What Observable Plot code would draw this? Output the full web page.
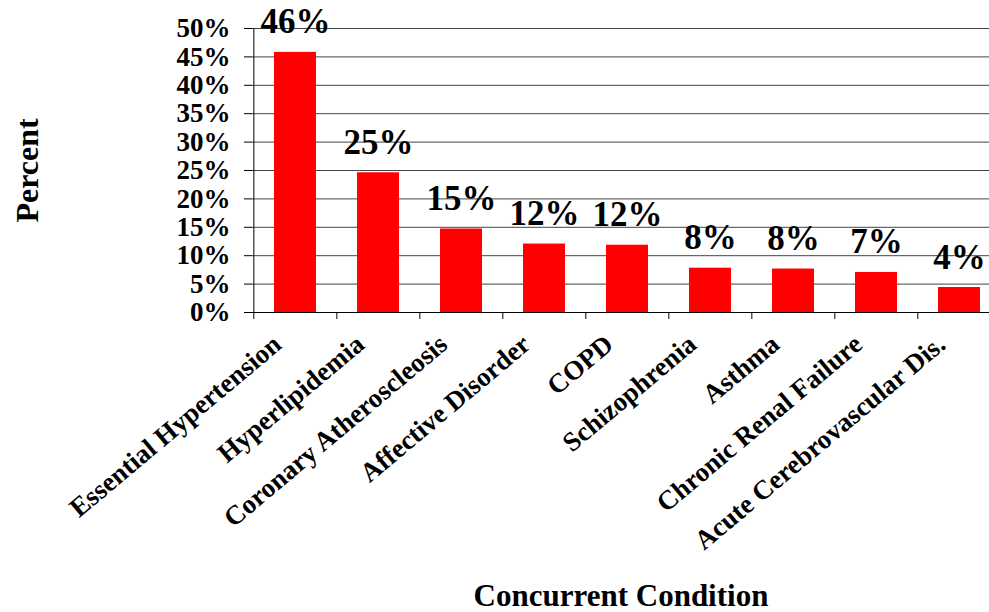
<!DOCTYPE html>
<html>
<head>
<meta charset="utf-8">
<script src="https://cdn.jsdelivr.net/npm/d3@7"></script>
<script src="https://cdn.jsdelivr.net/npm/@observablehq/plot@0.6"></script>
<style>
  html, body { margin: 0; padding: 0; background: white; overflow: hidden; }
</style>
</head>
<body>
<div id="chart"></div>
<script>
const categories = [
  "Essential Hypertension",
  "Hyperlipidemia",
  "Coronary Atheroscleosis",
  "Affective Disorder",
  "COPD",
  "Schizophrenia",
  "Asthma",
  "Chronic Renal Failure",
  "Acute Cerebrovascular Dis."
];
const values = [45.8, 24.6, 14.7, 12.05, 11.85, 7.8, 7.65, 7.05, 4.4];
const valueLabels = ["46%", "25%", "15%", "12%", "12%", "8%", "8%", "7%", "4%"];
const yTicks = [0, 5, 10, 15, 20, 25, 30, 35, 40, 45, 50];
const yTitle = "Percent";
const xTitle = "Concurrent Condition";

const data = categories.map((c, i) => ({cat: c, v: values[i], label: valueLabels[i]}));

const W = 989, H = 612;
const xRange = [252, 1002];
const step = (xRange[1] - xRange[0]) / categories.length;

const chart = Plot.plot({
  width: W,
  height: H,
  marginLeft: 252,
  marginRight: 0,
  marginTop: 28,
  marginBottom: 300,
  style: {
    fontFamily: "'Liberation Serif', 'Times New Roman', serif",
    fontWeight: "bold",
    color: "black",
    background: "white",
    overflow: "hidden"
  },
  x: {domain: categories, range: xRange, paddingInner: 0.5, paddingOuter: 0.25, label: null},
  y: {domain: [0, 50], label: null},
  marks: [
    Plot.ruleY(yTicks.slice(1), {stroke: "#444", strokeWidth: 1}),
    Plot.barY(data, {x: "cat", y: "v", fill: "#ff0000"}),
    Plot.ruleY([0], {stroke: "black", strokeWidth: 1}),
    Plot.ruleX([categories[0]], {x: d => d, dx: -step / 2, y1: 0, y2: 50, stroke: "black"}),
    Plot.ruleX(categories, {x: d => d, dx: -step / 2, y1: 0, y2: 0, insetBottom: -7, stroke: "black"}),
    Plot.axisY({ticks: yTicks, tickFormat: d => d + "%", tickSize: 8, tickPadding: 14, fontSize: 27, label: null}),
    Plot.axisX({tickRotate: -40, tickSize: 0, tickPadding: 14, dx: -18, dy: 14, fontSize: 27, label: null}),
    Plot.text(data, {x: "cat", y: "v", text: "label", dy: -19, lineAnchor: "bottom", fontSize: 35, fill: "black"}),
    Plot.text([yTitle], {frameAnchor: "left", text: d => d, textAnchor: "middle", rotate: -90, dx: -225, fontSize: 32, fill: "black"}),
    Plot.text([xTitle], {frameAnchor: "bottom", text: d => d, textAnchor: "middle", dy: 293, lineAnchor: "bottom", fontSize: 31, fill: "black"})
  ]
});
document.getElementById("chart").appendChild(chart);
</script>
</body>
</html>
